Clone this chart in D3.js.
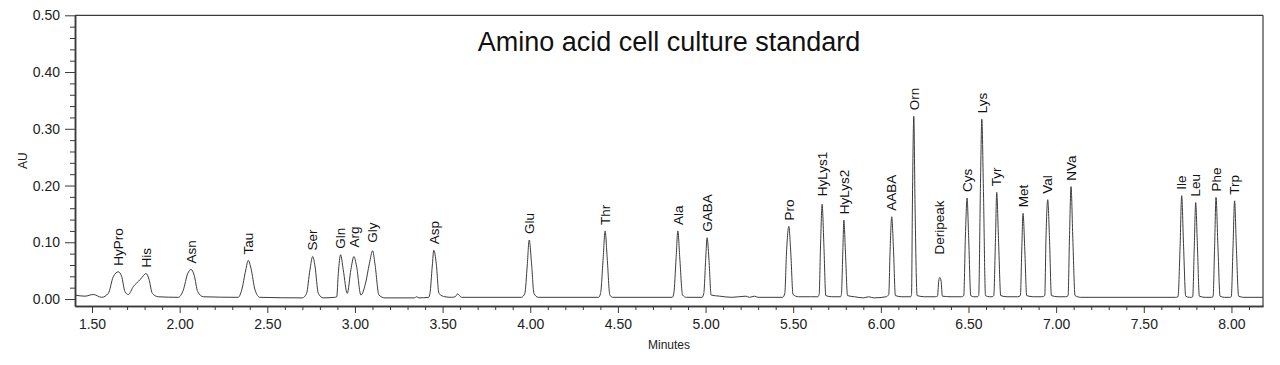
<!DOCTYPE html>
<html>
<head>
<meta charset="utf-8">
<script src="https://cdn.jsdelivr.net/npm/d3@7"></script>
<style>
    body { margin: 0; background: #fff; }
    svg { display: block; font-family: "Liberation Sans", Arial, sans-serif; }
</style>
</head>
<body>
<div id="chart"></div>
<script>
// Peak names, retention times (min) and apex heights (AU)
const peakNames = ["HyPro", "His", "Asn", "Tau", "Ser", "Gln", "Arg", "Gly", "Asp", "Glu",
    "Thr", "Ala", "GABA", "Pro", "HyLys1", "HyLys2", "AABA", "Orn", "Deripeak", "Cys",
    "Lys", "Tyr", "Met", "Val", "NVa", "Ile", "Leu", "Phe", "Trp"];
const peakTimes = [1.650, 1.808, 2.065, 2.391, 2.759, 2.918, 2.994, 3.101, 3.450, 3.994,
    4.427, 4.842, 5.009, 5.475, 5.665, 5.789, 6.062, 6.188, 6.336, 6.492,
    6.576, 6.661, 6.811, 6.952, 7.085, 7.716, 7.796, 7.912, 8.018];
const peakHeights = [0.048, 0.045, 0.052, 0.068, 0.075, 0.078, 0.075, 0.085, 0.086, 0.104,
    0.120, 0.120, 0.108, 0.128, 0.167, 0.139, 0.145, 0.322, 0.038, 0.178,
    0.317, 0.188, 0.151, 0.175, 0.198, 0.182, 0.170, 0.179, 0.173];

// Chromatogram trace points [minutes, AU]
const trace = [
    [1.403, .007], [1.46, .005], [1.507, .008], [1.555, .003], [1.593, .010], [1.621, .039],
    [1.650, .048], [1.669, .040], [1.688, .013], [1.707, .008], [1.736, .022], [1.774, .034],
    [1.793, .041], [1.808, .045], [1.825, .035], [1.844, .010], [1.878, .004], [1.992, .003],
    [2.021, .016], [2.046, .045], [2.065, .052], [2.083, .042], [2.103, .013], [2.135, .004],
    [2.334, .003], [2.354, .016], [2.377, .051], [2.391, .068], [2.407, .054], [2.430, .016],
    [2.458, .003], [2.70, .002], [2.724, .010], [2.743, .051], [2.759, .075], [2.772, .058],
    [2.791, .010], [2.819, .002], [2.885, .003], [2.896, .004], [2.905, .045], [2.918, .078],
    [2.933, .052], [2.956, .010], [2.977, .052], [2.994, .075], [3.009, .058], [3.034, .007],
    [3.062, .030], [3.082, .062], [3.101, .085], [3.114, .062], [3.137, .007], [3.171, .002],
    [3.34, .002], [3.352, .004], [3.365, .002], [3.42, .003], [3.428, .010], [3.441, .058],
    [3.450, .086], [3.464, .062], [3.479, .010], [3.513, .004], [3.55, .003], [3.572, .004],
    [3.585, .009], [3.608, .003], [3.95, .003], [3.969, .010], [3.983, .060], [3.994, .104],
    [4.008, .060], [4.021, .010], [4.045, .003], [4.39, .003], [4.401, .010], [4.416, .072],
    [4.427, .120], [4.439, .072], [4.454, .007], [4.47, .003], [4.81, .003], [4.819, .010],
    [4.832, .072], [4.842, .120], [4.853, .072], [4.869, .007], [4.89, .003], [4.98, .003],
    [4.990, .010], [5.001, .072], [5.009, .108], [5.019, .072], [5.032, .007], [5.081, .005],
    [5.15, .003], [5.23, .005], [5.25, .003], [5.28, .005], [5.30, .003], [5.44, .003],
    [5.452, .010], [5.462, .083], [5.475, .128], [5.486, .083], [5.499, .008], [5.53, .004],
    [5.60, .004], [5.64, .004], [5.648, .008], [5.656, .095], [5.665, .167], [5.675, .095],
    [5.686, .006], [5.72, .004], [5.77, .004], [5.775, .008], [5.783, .083], [5.789, .139],
    [5.798, .083], [5.810, .006], [5.85, .004], [5.90, .002], [5.93, .004], [5.96, .002],
    [6.03, .004], [6.045, .008], [6.053, .088], [6.062, .145], [6.072, .088], [6.083, .006],
    [6.12, .004], [6.17, .004], [6.175, .008], [6.180, .166], [6.188, .322], [6.195, .166],
    [6.207, .006], [6.25, .004], [6.31, .004], [6.323, .005], [6.330, .031], [6.336, .038],
    [6.344, .031], [6.351, .005], [6.40, .004], [6.46, .004], [6.473, .006], [6.482, .107],
    [6.492, .178], [6.501, .107], [6.513, .006], [6.53, .004], [6.55, .004], [6.558, .006],
    [6.568, .195], [6.576, .317], [6.585, .195], [6.597, .006], [6.62, .004], [6.635, .004],
    [6.644, .006], [6.654, .107], [6.661, .188], [6.671, .107], [6.684, .006], [6.72, .004],
    [6.78, .004], [6.796, .006], [6.804, .088], [6.811, .151], [6.821, .088], [6.832, .006],
    [6.87, .004], [6.92, .004], [6.935, .006], [6.942, .107], [6.952, .175], [6.962, .107],
    [6.973, .006], [7.01, .004], [7.055, .004], [7.068, .006], [7.076, .107], [7.085, .198],
    [7.095, .107], [7.108, .006], [7.14, .003], [7.68, .003], [7.695, .004], [7.707, .092],
    [7.716, .182], [7.727, .092], [7.739, .005], [7.76, .003], [7.772, .003], [7.779, .004],
    [7.788, .092], [7.796, .170], [7.806, .092], [7.817, .005], [7.85, .003], [7.885, .003],
    [7.895, .004], [7.904, .092], [7.912, .179], [7.923, .092], [7.935, .005], [7.96, .003],
    [7.99, .003], [7.999, .004], [8.009, .092], [8.018, .173], [8.028, .092], [8.041, .005],
    [8.07, .003], [8.18, .003]
];

// Axis ticks
const xMajorTicks = [1.5, 2.0, 2.5, 3.0, 3.5, 4.0, 4.5, 5.0, 5.5, 6.0, 6.5, 7.0, 7.5, 8.0];
const yMajorTicks = [0.0, 0.1, 0.2, 0.3, 0.4, 0.5];
const chartTitle = "Amino acid cell culture standard";

function drawChart() {
    const width = 1280, height = 365;
    const left = 75, right = 1263, top = 15.3, bottom = 306;
    const axisColor = "#3a3a3a";

    const svg = d3.select("#chart").append("svg")
        .attr("width", width)
        .attr("height", height);

    const x = d3.scaleLinear().domain([1.403, 8.18]).range([left, right]);
    const y = d3.scaleLinear().domain([-0.0123, 0.5]).range([bottom, top]);

    // Minor ticks every 0.1 min / 0.02 AU
    const xMinor = d3.range(15, 82).map(d => d / 10).filter(d => !xMajorTicks.some(m => Math.abs(m - d) < 1e-6));
    const yMinor = d3.range(0, 26).map(d => d / 50).filter(d => !yMajorTicks.some(m => Math.abs(m - d) < 1e-6));

    // X axis
    const xAxis = svg.append("g")
        .attr("transform", `translate(0,${bottom})`)
        .call(d3.axisBottom(x).tickValues(xMajorTicks).tickFormat(d3.format(".2f")).tickSize(7).tickSizeOuter(0));
    svg.append("g")
        .attr("transform", `translate(0,${bottom})`)
        .call(d3.axisBottom(x).tickValues(xMinor).tickFormat("").tickSize(4).tickSizeOuter(0));

    // Y axis
    const yAxis = svg.append("g")
        .attr("transform", `translate(${left},0)`)
        .call(d3.axisLeft(y).tickValues(yMajorTicks).tickFormat(d3.format(".2f")).tickSize(10).tickSizeOuter(0));
    svg.append("g")
        .attr("transform", `translate(${left},0)`)
        .call(d3.axisLeft(y).tickValues(yMinor).tickFormat("").tickSize(5).tickSizeOuter(0));

    svg.selectAll(".domain").attr("stroke", axisColor).attr("stroke-width", 1.5);
    svg.selectAll(".tick line").attr("stroke", axisColor);
    svg.selectAll(".tick text").attr("fill", "#222").attr("font-size", "14px");
    xAxis.selectAll(".tick text").attr("dy", "0.95em");
    yAxis.selectAll(".tick text").attr("dx", "-2px");

    // Top and right frame lines
    svg.append("line")
        .attr("x1", left).attr("x2", right).attr("y1", top).attr("y2", top)
        .attr("stroke", axisColor).attr("stroke-width", 1.2);
    svg.append("line")
        .attr("x1", right).attr("x2", right).attr("y1", top).attr("y2", bottom)
        .attr("stroke", axisColor).attr("stroke-width", 1.2);

    // Axis titles
    svg.append("text")
        .attr("x", (left + right) / 2).attr("y", 349)
        .attr("text-anchor", "middle")
        .attr("font-size", "12px").attr("fill", "#222")
        .text("Minutes");
    svg.append("text")
        .attr("transform", `translate(27,${(top + bottom) / 2}) rotate(-90)`)
        .attr("text-anchor", "middle")
        .attr("font-size", "12px").attr("fill", "#222")
        .text("AU");

    // Chart title
    svg.append("text")
        .attr("x", 669).attr("y", 51)
        .attr("text-anchor", "middle")
        .attr("font-size", "27px").attr("fill", "#111")
        .text(chartTitle);

    // Trace
    const line = d3.line()
        .x(d => x(d[0]))
        .y(d => y(d[1]))
        .curve(d3.curveMonotoneX);

    svg.append("path")
        .datum(trace)
        .attr("d", line)
        .attr("fill", "none")
        .attr("stroke", "#3c3c3c")
        .attr("stroke-width", 1);

    // Peak labels, rotated, sitting above each apex
    const labelLift = { Deripeak: 17, Arg: 3, Gly: 2, HyLys1: 2 };
    svg.append("g")
        .selectAll("text")
        .data(peakNames)
        .join("text")
        .attr("transform", (d, i) => `translate(${x(peakTimes[i])},${y(peakHeights[i]) - 6 - (labelLift[d] || 0)}) rotate(-90)`)
        .attr("dy", "0.35em")
        .attr("text-anchor", "start")
        .attr("font-size", "13.5px")
        .attr("fill", "#111")
        .text(d => d);
}

drawChart();
</script>
</body>
</html>
